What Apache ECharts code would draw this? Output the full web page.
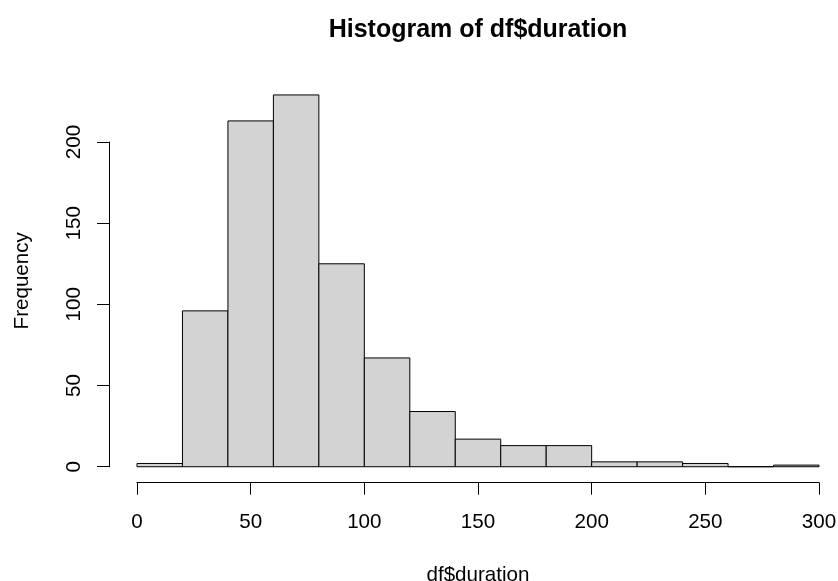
<!DOCTYPE html>
<html>
<head>
<meta charset="utf-8">
<script src="https://cdn.jsdelivr.net/npm/echarts@6/dist/echarts.min.js"></script>
<style>html,body{margin:0;padding:0;background:#fff;}#c{width:838px;height:581px;}</style>
</head>
<body>
<div id="c"></div>
<script>
const binStarts = [0, 20, 40, 60, 80, 100, 120, 140, 160, 180, 200, 220, 240, 260, 280];
const binEnds = [20, 40, 60, 80, 100, 120, 140, 160, 180, 200, 220, 240, 260, 280, 300];
const counts = [2, 96, 213, 229, 125, 67, 34, 17, 13, 13, 3, 3, 2, 0, 1];
const xTicks = [0, 50, 100, 150, 200, 250, 300];
const yTicks = [0, 50, 100, 150, 200];

const FONT = 'Liberation Sans, Arial, sans-serif';
const chart = echarts.init(document.getElementById('c'), null, {renderer: 'canvas'});
const data = binStarts.map((s, i) => [s, binEnds[i], counts[i]]);

chart.setOption({
  animation: false,
  backgroundColor: '#fff',
  title: {
    text: 'Histogram of df$duration',
    left: 478, top: 18, textAlign: 'center', padding: 0,
    textStyle: {fontFamily: FONT, fontSize: 25, fontWeight: 'bold', color: '#000'}
  },
  grid: [
    // plot region (R "usr" range: y from -9.16 to 238.2)
    {left: 137, right: 19, top: 80, bottom: 99.4, containLabel: false, outerBoundsMode: 'none'},
    // axis region 0..200
    {left: 137, right: 19, top: 142, bottom: 114.3, containLabel: false, outerBoundsMode: 'none'}
  ],
  xAxis: [
    {gridIndex: 0, type: 'value', min: 0, max: 300, show: false, axisLine: {onZero: false}},
    {
      gridIndex: 1, type: 'value', min: 0, max: 300, interval: 50, offset: 16,
      name: 'df$duration', nameLocation: 'middle', nameGap: 82,
      nameTextStyle: {fontFamily: FONT, fontSize: 20.6, color: '#000'},
      axisLine: {show: true, onZero: false, lineStyle: {color: '#000', width: 1}},
      axisTick: {show: true, length: 12, lineStyle: {color: '#000', width: 1}},
      axisLabel: {fontFamily: FONT, fontSize: 20.6, color: '#000', margin: 29},
      splitLine: {show: false}
    }
  ],
  yAxis: [
    {
      gridIndex: 0, type: 'value', min: -9.16, max: 238.2, offset: 28,
      name: 'Frequency', nameLocation: 'middle', nameGap: 76, nameRotate: 90,
      nameTextStyle: {fontFamily: FONT, fontSize: 20.6, color: '#000'},
      axisLine: {show: false, onZero: false},
      axisTick: {show: false},
      axisLabel: {show: false},
      splitLine: {show: false}
    },
    {
      gridIndex: 1, type: 'value', min: 0, max: 200, interval: 50, offset: 28,
      axisLine: {show: true, onZero: false, lineStyle: {color: '#000', width: 1}},
      axisTick: {show: true, length: 12, lineStyle: {color: '#000', width: 1}},
      axisLabel: {fontFamily: FONT, fontSize: 20.6, color: '#000', margin: 24, rotate: 90},
      splitLine: {show: false}
    }
  ],
  series: [{
    type: 'custom',
    xAxisIndex: 0, yAxisIndex: 0,
    data: data,
    renderItem: function (params, api) {
      const p0 = api.coord([api.value(0), 0]);
      const p1 = api.coord([api.value(1), api.value(2)]);
      return {
        type: 'rect',
        shape: {x: p0[0], y: p1[1], width: p1[0] - p0[0], height: p0[1] - p1[1]},
        style: {fill: '#d3d3d3', stroke: '#000', lineWidth: 1}
      };
    }
  }]
});
</script>
</body>
</html>
